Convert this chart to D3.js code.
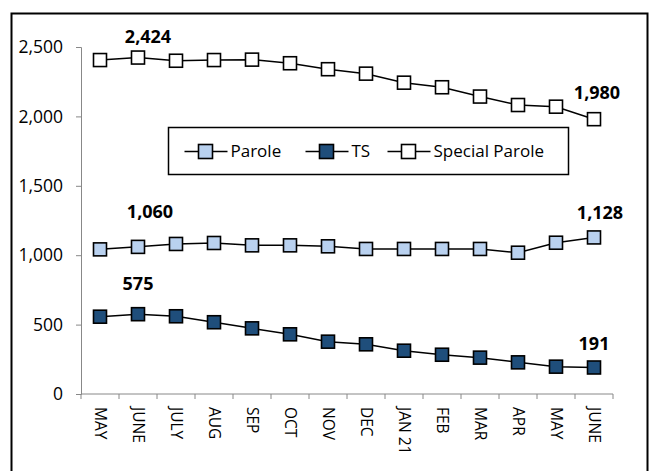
<!DOCTYPE html>
<html>
<head>
<meta charset="utf-8">
<script src="https://cdn.jsdelivr.net/npm/d3@7"></script>
<style>
  body { margin: 0; background: #fff; }
  svg { display: block; font-family: "Open Sans", Lato, sans-serif; }
</style>
</head>
<body>
<svg id="chart" width="649" height="471"></svg>
<script>
const months = ["MAY", "JUNE", "JULY", "AUG", "SEP", "OCT", "NOV", "DEC", "JAN 21", "FEB", "MAR", "APR", "MAY", "JUNE"];
const parole = [1042, 1060, 1081, 1088, 1071, 1071, 1064, 1045, 1045, 1045, 1045, 1018, 1090, 1128];
const ts = [557, 575, 560, 517, 473, 430, 377, 358, 312, 283, 262, 228, 197, 191];
const specialParole = [2406, 2424, 2401, 2406, 2409, 2383, 2340, 2308, 2243, 2210, 2143, 2082, 2070, 1980];
const yTicks = [0, 500, 1000, 1500, 2000, 2500];

const series = [
  { name: "Parole", values: parole, fill: "#b9d1ef" },
  { name: "TS", values: ts, fill: "#1f4e7b" },
  { name: "Special Parole", values: specialParole, fill: "#ffffff" }
];

// labelled points: series, index, and a nudge for the text
const labels = [
  { s: 2, i: 1, dx: 10, dy: -15 },
  { s: 2, i: 13, dx: 3, dy: -20 },
  { s: 0, i: 1, dx: 12, dy: -29 },
  { s: 0, i: 13, dx: 6, dy: -18 },
  { s: 1, i: 1, dx: 0, dy: -24 },
  { s: 1, i: 13, dx: 0, dy: -17 }
];

const svg = d3.select("#chart");
const fmt = d3.format(",");

// outer frame
svg.append("rect")
  .attr("x", 11.5).attr("y", 13.5)
  .attr("width", 636).attr("height", 470)
  .attr("fill", "none").attr("stroke", "#000").attr("stroke-width", 2);

const x = d3.scaleBand().domain(d3.range(months.length)).range([81, 613]);
const y = d3.scaleLinear().domain([0, 2500]).range([394, 47]);

// y axis
const yAxis = svg.append("g")
  .attr("transform", "translate(81,0)")
  .call(d3.axisLeft(y).tickValues(yTicks).tickFormat(fmt).tickSize(5).tickPadding(13));
yAxis.select(".domain").attr("stroke", "#888");
yAxis.selectAll(".tick line").attr("stroke", "#888");
yAxis.selectAll("text").attr("font-size", 17.5).attr("font-family", "Open Sans").attr("fill", "#000");

// x axis with ticks at band edges
const xg = svg.append("g").attr("transform", "translate(0,394)");
xg.append("line").attr("x1", 81).attr("x2", 613).attr("stroke", "#888");
xg.selectAll(".tk").data(d3.range(months.length + 1)).join("line")
  .attr("x1", d => 81 + d * x.step()).attr("x2", d => 81 + d * x.step())
  .attr("y1", 0).attr("y2", 5).attr("stroke", "#888");
xg.selectAll(".lbl").data(months).join("text")
  .attr("transform", (d, i) => `translate(${x(i) + x.bandwidth() / 2},13) rotate(90)`)
  .attr("dy", "0.35em")
  .attr("font-size", 15.5)
  .text(d => d);

const line = d3.line()
  .x((d, i) => x(i) + x.bandwidth() / 2)
  .y(d => y(d));

const sz = 13;
series.forEach(s => {
  svg.append("path")
    .datum(s.values)
    .attr("d", line)
    .attr("fill", "none").attr("stroke", "#000").attr("stroke-width", 1.5);
  svg.append("g").selectAll("rect").data(s.values).join("rect")
    .attr("x", (d, i) => x(i) + x.bandwidth() / 2 - sz / 2)
    .attr("y", d => y(d) - sz / 2)
    .attr("width", sz).attr("height", sz)
    .attr("fill", s.fill).attr("stroke", "#000").attr("stroke-width", 1.6);
});

// data labels
svg.append("g").selectAll("text").data(labels).join("text")
  .attr("x", d => x(d.i) + x.bandwidth() / 2 + d.dx)
  .attr("y", d => y(series[d.s].values[d.i]) + d.dy)
  .attr("text-anchor", "middle")
  .attr("font-size", 18).attr("font-weight", "bold")
  .text(d => fmt(series[d.s].values[d.i]));

// legend
const lg = svg.append("g").attr("transform", "translate(168.5,127.5)");
lg.append("rect").attr("width", 400).attr("height", 47)
  .attr("fill", "#fff").attr("stroke", "#000").attr("stroke-width", 1.5);
const legendX = [16, 137, 219];
series.forEach((s, k) => {
  const g = lg.append("g").attr("transform", `translate(${legendX[k]},24)`);
  g.append("line").attr("x1", 0).attr("x2", 43).attr("stroke", "#000").attr("stroke-width", 1.5);
  g.append("rect").attr("x", 14).attr("y", -7).attr("width", 14).attr("height", 14)
    .attr("fill", s.fill).attr("stroke", "#000").attr("stroke-width", 1.6);
  g.append("text").attr("x", 46).attr("dy", "0.35em").attr("font-size", 17).text(s.name);
});
</script>
</body>
</html>
